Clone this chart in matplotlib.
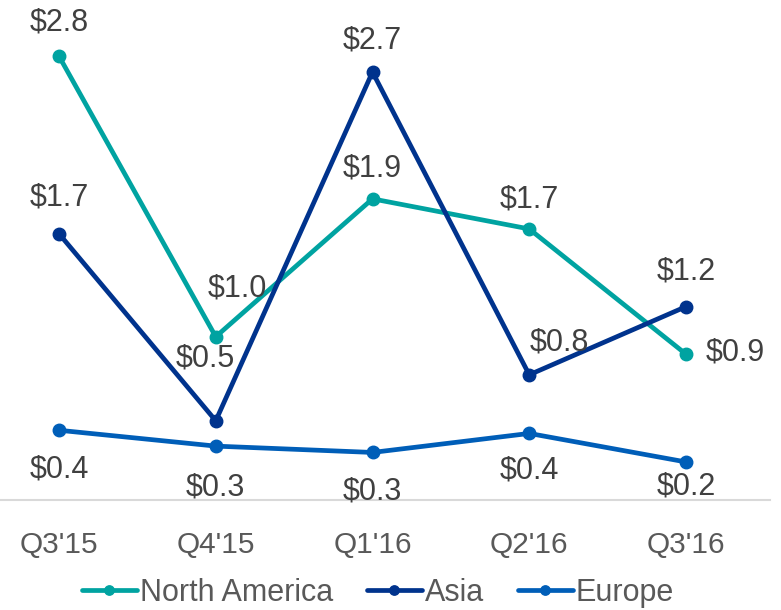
import matplotlib
matplotlib.use("Agg")
import matplotlib.pyplot as plt

quarters = ["Q3'15", "Q4'15", "Q1'16", "Q2'16", "Q3'16"]
north_america = [2.80, 1.03, 1.90, 1.71, 0.92]
asia = [1.68, 0.50, 2.70, 0.79, 1.22]
europe = [0.44, 0.34, 0.30, 0.42, 0.24]

series_names = ["North America", "Asia", "Europe"]
colors = ["#00A3A1", "#00338D", "#005EB8"]

# label offsets in pixels (dx, dy)
offsets = [
    [(0, 34), (22, 48), (0, 30), (0, 29), (49, 2)],
    [(0, 36), (-10, 62), (0, 32), (30, 32), (0, 35)],
    [(0, -39), (0, -41), (0, -39), (0, -37), (0, -25)],
]

plt.rcParams['font.family'] = ['Liberation Sans', 'DejaVu Sans']

fig = plt.figure(figsize=(7.81, 6.10), dpi=100)
ax = fig.add_axes([0, 110/610, 770/781, 500/610])
ax.set_xlim(-59/156.75, (770-59)/156.75)
ax.set_ylim(0, 500/158.5)

x = list(range(len(quarters)))
for name, vals, col, offs in zip(series_names, [north_america, asia, europe], colors, offsets):
    ax.plot(x, vals, color=col, lw=3.4, marker='o', markersize=9, label=name,
            solid_capstyle='round', zorder=3)
    for xi, v, (dx, dy) in zip(x, vals, offs):
        ax.annotate(f"${v:.1f}", (xi, v), xytext=(dx, dy), textcoords='offset pixels',
                    ha='center', va='center', fontsize=22, color='#404040', zorder=4)

for s in ['top', 'right', 'left']:
    ax.spines[s].set_visible(False)
ax.spines['bottom'].set_color('#D9D9D9')
ax.spines['bottom'].set_linewidth(1.5)
ax.set_yticks([])
ax.set_xticks(x)
ax.set_xticklabels(quarters, fontsize=21.5, color='#595959')
ax.tick_params(axis='x', length=0, pad=22)
ax.patch.set_alpha(0)

fig.legend(loc='center', bbox_to_anchor=(378/781, 1 - 593/610), ncol=3, frameon=False,
           fontsize=22, labelcolor='#595959', handlelength=1.8, handletextpad=0.1,
           columnspacing=1.1, borderpad=0, markerscale=0.75)

fig.savefig("out.png", dpi=100)
